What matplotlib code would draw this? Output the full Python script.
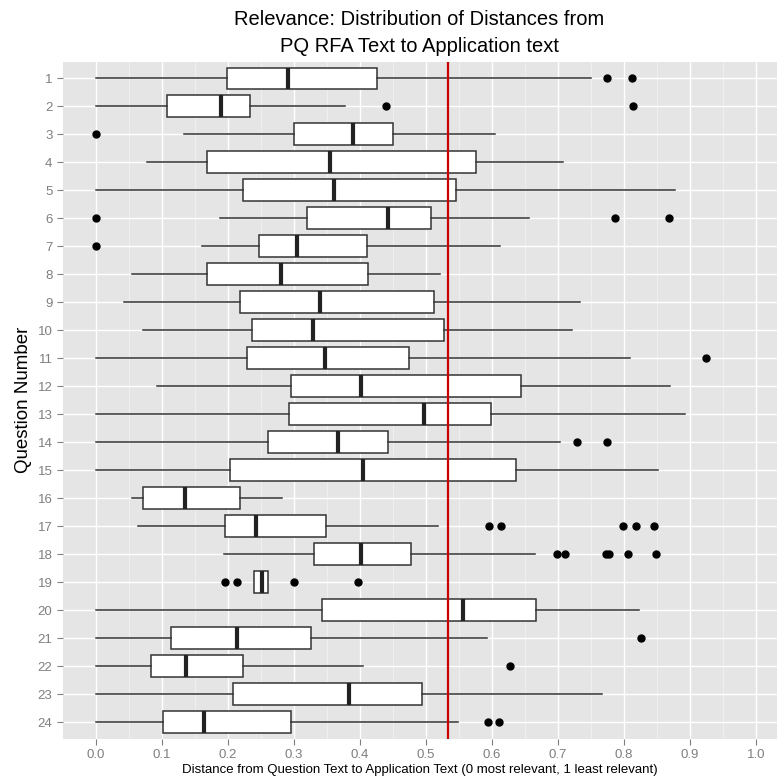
import matplotlib
matplotlib.use('Agg')
import matplotlib.pyplot as plt
import numpy as np

plt.rcParams['font.family'] = ['Liberation Sans', 'DejaVu Sans']

# five-number summaries, question 1..24
questions = list(range(1, 25))
whisker_lo = [0.000, 0.000, 0.134, 0.078, 0.000, 0.188, 0.161, 0.055, 0.043, 0.071, 0.000, 0.093,
              0.000, 0.000, 0.000, 0.055, 0.063, 0.194, 0.240, 0.000, 0.000, 0.000, 0.000, 0.000]
q1 = [0.198, 0.108, 0.300, 0.169, 0.223, 0.320, 0.247, 0.169, 0.218, 0.236, 0.229, 0.296,
      0.293, 0.261, 0.203, 0.071, 0.195, 0.330, 0.240, 0.343, 0.113, 0.083, 0.208, 0.102]
medians = [0.291, 0.189, 0.389, 0.355, 0.360, 0.443, 0.305, 0.281, 0.339, 0.329, 0.347, 0.401,
           0.497, 0.367, 0.404, 0.135, 0.242, 0.401, 0.252, 0.556, 0.213, 0.137, 0.384, 0.164]
q3 = [0.426, 0.234, 0.450, 0.576, 0.546, 0.507, 0.410, 0.412, 0.513, 0.528, 0.475, 0.644,
      0.599, 0.443, 0.637, 0.218, 0.348, 0.478, 0.260, 0.667, 0.326, 0.223, 0.494, 0.296]
whisker_hi = [0.750, 0.378, 0.605, 0.708, 0.877, 0.656, 0.613, 0.522, 0.733, 0.722, 0.809, 0.870,
              0.893, 0.703, 0.851, 0.282, 0.519, 0.666, 0.260, 0.823, 0.593, 0.405, 0.767, 0.548]
outliers = [
    [0.774, 0.812], [0.440, 0.814], [0.0], [], [], [0.0, 0.787, 0.868], [0.0], [], [], [],
    [0.925], [], [], [0.729, 0.775], [], [],
    [0.596, 0.614, 0.799, 0.818, 0.845],
    [0.698, 0.711, 0.773, 0.777, 0.806, 0.849],
    [0.195, 0.213, 0.300, 0.397],
    [], [0.826], [0.628], [], [0.594, 0.611],
]
cutoff = 0.533

title = 'Relevance: Distribution of Distances from\nPQ RFA Text to Application text'
xlabel = 'Distance from Question Text to Application Text (0 most relevant, 1 least relevant)'
ylabel = 'Question Number'

stats = []
for i, q in enumerate(questions):
    stats.append(dict(label=str(q), whislo=whisker_lo[i], q1=q1[i], med=medians[i],
                      q3=q3[i], whishi=whisker_hi[i], fliers=outliers[i]))

fig = plt.figure(figsize=(7.77, 7.84), dpi=100)
ax = fig.add_axes([0.081, 0.0574, 0.919, 0.864])
ax.set_facecolor('#e5e5e5')

ax.bxp(stats, positions=questions, vert=False, widths=0.78, patch_artist=True,
       showcaps=False,
       boxprops=dict(facecolor='white', edgecolor='#333333', linewidth=1.1),
       medianprops=dict(color='#222222', linewidth=3),
       whiskerprops=dict(color='#333333', linewidth=1.1),
       flierprops=dict(marker='o', markerfacecolor='black', markeredgecolor='black',
                       markersize=5),
       zorder=3)

ax.axvline(cutoff, color='#cc0000', linewidth=1.6, zorder=4)

ax.set_xlim(-0.05, 1.032)
ax.set_ylim(24.6, 0.4)
ax.set_xticks(np.arange(0, 1.01, 0.1))
ax.set_xticks(np.arange(0.05, 1.0, 0.1), minor=True)
ax.set_yticks(questions)
ax.set_yticklabels([str(q) for q in questions])
ax.grid(True, which='major', color='white', linewidth=1.0, zorder=0)
ax.grid(True, which='minor', axis='x', color='#f2f2f2', linewidth=0.6, zorder=0)
ax.set_axisbelow(True)
for s in ax.spines.values():
    s.set_visible(False)
ax.tick_params(axis='both', which='major', colors='#7f7f7f', labelcolor='#7f7f7f',
               labelsize=9.5, length=4)
ax.tick_params(axis='both', which='minor', length=0)

ax.set_xlabel(xlabel, fontsize=9.5, labelpad=2)
ax.set_ylabel(ylabel, fontsize=13.5, labelpad=4)
fig.text(0.54, 0.958, title, ha='center', va='center', fontsize=14.5, linespacing=1.5)

fig.savefig('out.png', dpi=100)
